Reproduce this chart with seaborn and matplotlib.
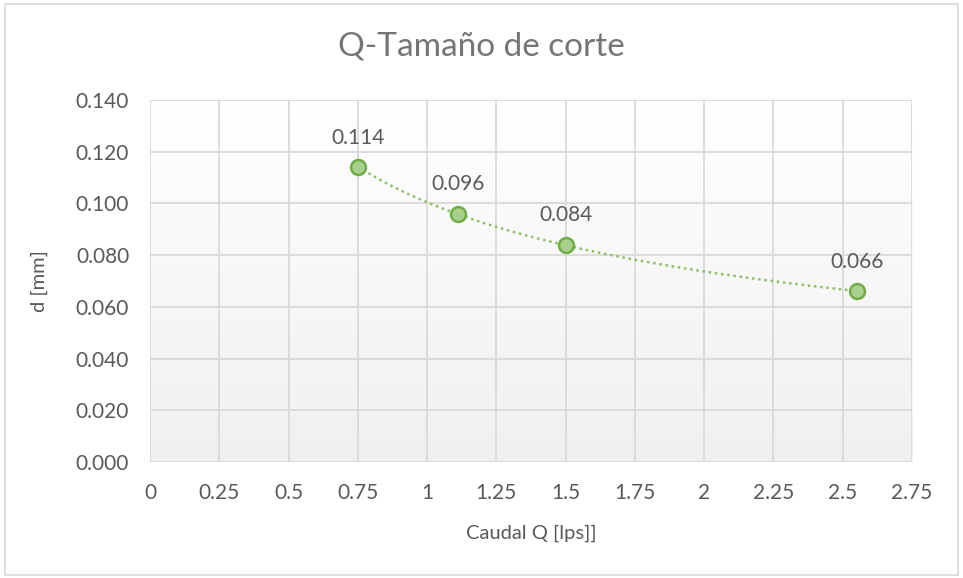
import numpy as np
import pandas as pd
import matplotlib.pyplot as plt
import seaborn as sns
from matplotlib.patches import Rectangle
from matplotlib.colors import LinearSegmentedColormap

# Datos
caudal = [0.75, 1.11, 1.5, 2.55]
diametro = [0.114, 0.096, 0.084, 0.066]
etiquetas = ["0.114", "0.096", "0.084", "0.066"]

df = pd.DataFrame({"Q": caudal, "d": diametro})

sns.set_style("white")
plt.rcParams["font.family"] = ["Lato", "DejaVu Sans"]
gris = "#595959"

fig = plt.figure(figsize=(9.63, 5.78), dpi=100)
ax = fig.add_axes([150 / 963, 116 / 578, 762 / 963, 362 / 578])

# fondo con degradado (blanco arriba, gris abajo)
grad = np.linspace(0, 1, 256).reshape(-1, 1)
cmap = LinearSegmentedColormap.from_list("g", ["#ffffff", "#f0f0f0"])
ax.imshow(grad, extent=[0, 2.75, 0, 0.14], aspect="auto", origin="upper",
          cmap=cmap, vmin=0, vmax=1, zorder=0)

# curva suavizada (ajuste potencial)
b, a = np.polyfit(np.log(caudal), np.log(diametro), 1)
xs = np.linspace(min(caudal), max(caudal), 200)
curva = pd.DataFrame({"Q": xs, "d": np.exp(a) * xs ** b})
sns.lineplot(data=curva, x="Q", y="d", ax=ax, color="#8cc063", lw=1.8,
             linestyle=(0, (1, 1.5)), zorder=3)

sns.scatterplot(data=df, x="Q", y="d", ax=ax, s=115, color="#a9d18e",
                edgecolor="#70ad47", linewidth=1.8, zorder=4)

for x, y, t in zip(caudal, diametro, etiquetas):
    ax.annotate(t, (x, y), xytext=(0, 14), textcoords="offset points",
                ha="center", va="bottom", fontsize=15, color=gris)

ax.set_xlim(0, 2.75)
ax.set_ylim(0, 0.14)
ax.set_xticks(np.arange(0, 2.76, 0.25))
ax.set_xticklabels(["0", "0.25", "0.5", "0.75", "1", "1.25", "1.5", "1.75", "2", "2.25", "2.5", "2.75"])
ax.set_yticks(np.arange(0, 0.141, 0.02))
ax.set_yticklabels([f"{v:.3f}" for v in np.arange(0, 0.141, 0.02)])
ax.grid(True, color="#d9d9d9", lw=1.3)
ax.set_axisbelow(True)
for s in ax.spines.values():
    s.set_visible(False)
ax.tick_params(axis="both", length=0, labelsize=15, labelcolor=gris)
ax.tick_params(axis="x", pad=15)
ax.tick_params(axis="y", pad=15)
ax.set_xlabel("Caudal Q [lps]]", fontsize=14.5, color=gris, labelpad=16)
ax.set_ylabel("d [mm]", fontsize=14.5, color=gris, labelpad=20)

fig.text(0.5, 1 - 47 / 578, "Q-Tamaño de corte", ha="center", va="center",
         fontsize=24, color="#757575")

fig.patches.append(Rectangle((5 / 963, 3 / 578), 953 / 963, 571 / 578, transform=fig.transFigure,
                             fill=False, edgecolor="#d9d9d9", lw=1.2))

fig.savefig("out.png", dpi=100)
